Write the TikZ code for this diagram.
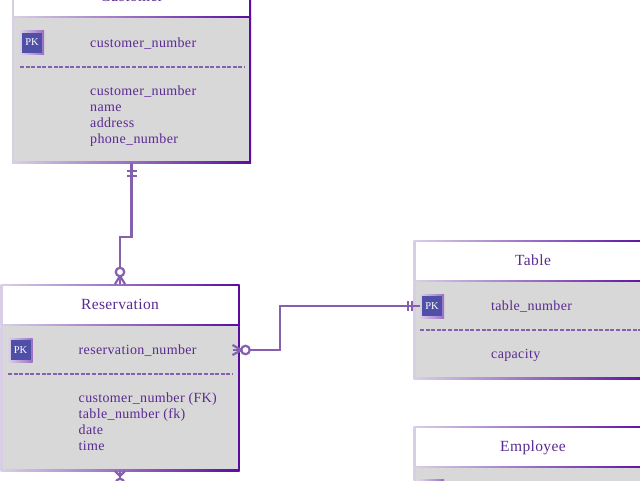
\documentclass[tikz,border=0pt]{standalone}
\usepackage{fontspec}
\setmainfont{Liberation Serif}
\newfontfamily\spacedserif[LetterSpace=2.5]{Liberation Serif}
\usetikzlibrary{calc}
\definecolor{bodyfill}{HTML}{D8D8D8}
\definecolor{edgelight}{HTML}{D8CFE6}
\definecolor{edgedark}{HTML}{5A0CA0}
\definecolor{linkcol}{HTML}{8560AE}
\definecolor{inkcol}{HTML}{5A2A90}
\definecolor{keyfill}{HTML}{4F4FA8}
\tikzset{
  outerbox/.style={rectangle,inner sep=0pt,outer sep=0pt,shade,shading=axis,left color=edgelight,right color=edgedark,minimum width=#1},
  innerbox/.style={rectangle,inner sep=0pt,outer sep=0pt,minimum width=#1},
  titletext/.style={font=\spacedserif\fontsize{15.5}{18}\selectfont,text=inkcol,inner sep=0pt,anchor=base},
  attrtext/.style={font=\spacedserif\fontsize{14}{16}\selectfont,text=inkcol,inner sep=0pt,anchor=base west,align=left},
  keyout/.style={rectangle,inner sep=0pt,outer sep=0pt,shade,shading=axis,left color=edgelight,right color=edgedark!60!white,minimum width=24pt,minimum height=24pt},
  keyin/.style={rectangle,inner sep=0pt,outer sep=0pt,fill=keyfill,minimum width=20pt,minimum height=20pt,text=white,font=\fontsize{10.5}{12}\selectfont},
  sepline/.style={draw=linkcol,line width=1.6pt,dash pattern=on 4pt off 1.6pt},
  link/.style={draw=linkcol,line width=2.2pt},
  ringmark/.style={circle,draw=linkcol,line width=2.2pt,fill=white,inner sep=0pt,minimum size=8.5pt,outer sep=0pt}
}
% id, title, centre x, top y, body height
\newcommand{\erbox}[5]{%
  \node[outerbox=239pt,minimum height=42pt] (#1h) at (#3,#4+21) {};
  \node[innerbox=235pt,minimum height=38pt,fill=white] at (#1h.center) {};
  \node[titletext] (#1t) at (#3,#4+25.5) {#2};
  \node[outerbox=239pt,minimum height=#5pt] (#1b) at (#3,#4+42+#5/2) {};
  \node[innerbox=235pt,minimum height=#5pt-2pt,fill=bodyfill] at (#3,#4+42+#5/2-1) {};
}
\begin{document}
\begin{tikzpicture}[x=1pt,y=-1pt]
\path[use as bounding box] (0,0) rectangle (640,480);
\clip (0,0) rectangle (640,480);
\fill[white] (0,0) rectangle (640,480);

\erbox{cu}{Customer}{131.5}{-24}{145}
\erbox{re}{Reservation}{120}{284}{145}
\erbox{ta}{Table}{533}{240}{97}
\erbox{em}{Employee}{533}{426}{120}

% Customer
\node[keyout] (cuko) at (32,42.5) {};
\node[keyin] (cuk) at (cuko.center) {PK};
\node[attrtext] (cu1) at (90,47) {customer\_number};
\coordinate (cus1) at (20,67);
\coordinate (cus2) at (245,67);
\draw[sepline] (cus1) -- (cus2);
\node[attrtext] (cu2) at (90,95) {customer\_number};
\node[attrtext] (cu3) at (90,111) {name};
\node[attrtext] (cu4) at (90,127) {address};
\node[attrtext] (cu5) at (90,143) {phone\_number};

% Reservation
\node[keyout] (reko) at (20.5,350) {};
\node[keyin] (rek) at (reko.center) {PK};
\node[attrtext] (re1) at (78.5,354.5) {reservation\_number};
\coordinate (res1) at (8,374);
\coordinate (res2) at (233,374);
\draw[sepline] (res1) -- (res2);
\node[attrtext] (re2) at (78.5,402.5) {customer\_number (FK)};
\node[attrtext] (re3) at (78.5,418.5) {table\_number (fk)};
\node[attrtext] (re4) at (78.5,434.5) {date};
\node[attrtext] (re5) at (78.5,450.5) {time};

% Table
\node[keyout] (tako) at (432,306) {};
\node[keyin] (tak) at (tako.center) {PK};
\node[attrtext] (ta1) at (491,310.5) {table\_number};
\coordinate (tas1) at (420,330);
\coordinate (tas2) at (650,330);
\draw[sepline] (tas1) -- (tas2);
\node[attrtext] (ta2) at (491,358.5) {capacity};

% Employee key box, cut by the lower edge
\node[keyout] (emko) at (432,491.5) {};

% Customer -- Reservation
\coordinate (bend) at (0,237);
\draw[link] (cub.south) -- (cub.south |- bend) -- (reh.north |- bend) -- (reh.north);
\draw[link] ($(cub.south)+(-5,8)$) -- ++(10,0);
\draw[link] ($(cub.south)+(-5,13)$) -- ++(10,0);
\node[ringmark] (rering) at ($(reh.north)+(0,-12)$) {};
\draw[link] ($(reh.north)+(0,-8)$) -- ($(reh.north)+(-5,0)$);
\draw[link] ($(reh.north)+(0,-8)$) -- ($(reh.north)+(5,0)$);

% Reservation -- Table
\coordinate (bendx) at (280,0);
\coordinate (rek1) at (reb.east |- rek);
\draw[link] (rek1) -- (bendx |- rek1) -- (bendx |- tako) -- (tako.west);
\node[ringmark] (kering) at ($(rek1)+(6,0)$) {};
\draw[link] ($(rek1)+(2,0)$) -- ($(rek1)+(-7,-5)$);
\draw[link] ($(rek1)+(2,0)$) -- ($(rek1)+(-7,5)$);
\draw[link] ($(rek1)+(-7,0)$) -- (rek1);
\draw[link] ($(tako.west)+(-12,-5)$) -- ++(0,10);
\draw[link] ($(tako.west)+(-8,-5)$) -- ++(0,10);

% Reservation -- lower entity, cut by the lower edge
\coordinate (lowend) at (120,490);
\draw[link] (reb.south) -- (lowend);
\draw[link] ($(reb.south)+(0,5)$) -- ($(reb.south)+(-5,0)$);
\draw[link] ($(reb.south)+(0,5)$) -- ($(reb.south)+(5,0)$);
\node[ringmark] (lowring) at ($(reb.south)+(0,12)$) {};
\end{tikzpicture}
\end{document}
